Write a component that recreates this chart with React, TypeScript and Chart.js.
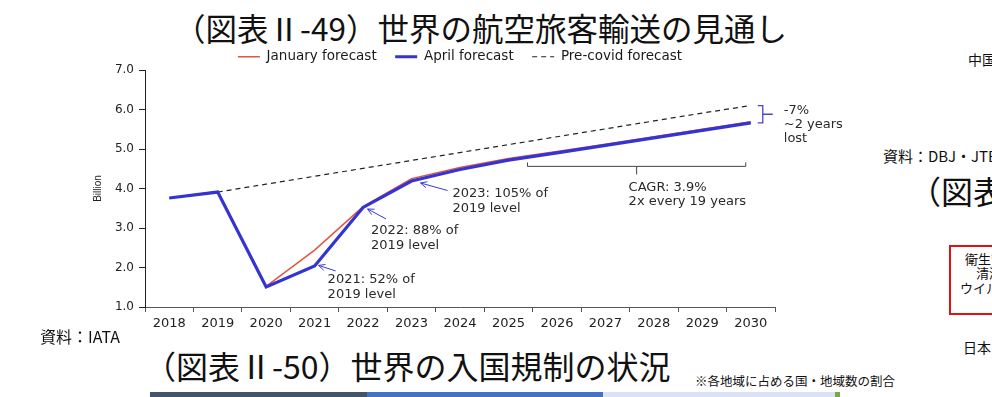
import { useEffect, useRef } from 'react';
import { Chart, registerables } from 'chart.js';

Chart.register(...registerables);

// ---- data ----
const years = ['2018', '2019', '2020', '2021', '2022', '2023', '2024', '2025', '2026', '2027', '2028', '2029', '2030'];
const januaryForecast = [3.76, 3.92, 1.52, 2.44, 3.54, 4.25, 4.53, 4.76, 4.94, 5.12, 5.31, 5.5, 5.69];
const aprilForecast = [3.76, 3.91, 1.51, 2.04, 3.52, 4.19, 4.48, 4.72, 4.9, 5.09, 5.28, 5.47, 5.66];
const preCovidForecast: (number | null)[] = [null, 3.91, 4.11, 4.31, 4.51, 4.71, 4.91, 5.11, 5.31, 5.51, 5.71, 5.91, 6.1];
const seriesNames = ['January forecast', 'April forecast', 'Pre-covid forecast'];
const yMin = 1;
const yMax = 7;
const yStep = 1;
const yTitle = 'Billion';

const callout2021 = ['2021: 52% of', '2019 level'];
const callout2022 = ['2022: 88% of', '2019 level'];
const callout2023 = ['2023: 105% of', '2019 level'];
const cagrLines = ['CAGR: 3.9%', '2x every 19 years'];
const gapLines = ['-7%', '~2 years', 'lost'];

const FONT = '"DejaVu Sans", sans-serif';
const JP = '"Noto Sans CJK JP", sans-serif';

function drawArrow(ctx: CanvasRenderingContext2D, x1: number, y1: number, x2: number, y2: number) {
  ctx.beginPath();
  ctx.moveTo(x1, y1);
  ctx.lineTo(x2, y2);
  ctx.stroke();
  const a = Math.atan2(y2 - y1, x2 - x1);
  const L = 7;
  ctx.beginPath();
  ctx.moveTo(x2 - L * Math.cos(a - 0.45), y2 - L * Math.sin(a - 0.45));
  ctx.lineTo(x2, y2);
  ctx.lineTo(x2 - L * Math.cos(a + 0.45), y2 - L * Math.sin(a + 0.45));
  ctx.stroke();
}

const legendShiftPlugin = {
  id: 'legendShift',
  afterLayout(chart: any) {
    if (chart.legend) {
      chart.legend.top += 3.5;
      chart.legend.bottom += 3.5;
    }
  },
};

const annotationPlugin = {
  id: 'iataAnnotations',
  afterDatasetsDraw(chart: any) {
    const { ctx, scales } = chart;
    const x = scales.x;
    const y = scales.y;
    ctx.save();
    ctx.font = `13px ${FONT}`;
    ctx.fillStyle = '#2a2a2a';
    ctx.textBaseline = 'middle';
    ctx.textAlign = 'left';
    ctx.lineWidth = 1;
    ctx.strokeStyle = '#3a3ad0';

    const callouts = [
      { idx: 3, lines: callout2021, head: [4, -0.5], tail: [21, 5], text: [13, 14] },
      { idx: 4, lines: callout2022, head: [4.5, 1.5], tail: [23, 11.5], text: [8, 23.5] },
      { idx: 5, lines: callout2023, head: [9, 2], tail: [36, 9.5], text: [41, 13] },
    ];
    callouts.forEach((c) => {
      const px = x.getPixelForValue(c.idx);
      const py = y.getPixelForValue(aprilForecast[c.idx]);
      drawArrow(ctx, px + c.tail[0], py + c.tail[1], px + c.head[0], py + c.head[1]);
      c.lines.forEach((t, i) => ctx.fillText(t, px + c.text[0], py + c.text[1] + i * 14.5));
    });

    // CAGR bracket (2025 - 2030)
    const bl = x.getPixelForValue(7) + 19;
    const br = x.getPixelForValue(12) - 5;
    const by = y.getPixelForValue(4.56);
    ctx.strokeStyle = '#444';
    ctx.beginPath();
    ctx.moveTo(bl, by - 4);
    ctx.lineTo(bl, by);
    ctx.lineTo(br, by);
    ctx.lineTo(br, by - 4);
    const bm = (bl + br) / 2;
    ctx.moveTo(bm, by);
    ctx.lineTo(bm, by + 8);
    ctx.stroke();
    cagrLines.forEach((t, i) => ctx.fillText(t, bm - 8, by + 21 + i * 14));

    // gap bracket at 2030
    const gx = x.getPixelForValue(12) + 12;
    const gt = y.getPixelForValue(preCovidForecast[12] as number);
    const gb = y.getPixelForValue(aprilForecast[12]);
    ctx.strokeStyle = '#4646cf';
    ctx.lineWidth = 1.3;
    ctx.beginPath();
    ctx.moveTo(gx - 5, gt);
    ctx.lineTo(gx, gt);
    ctx.lineTo(gx, gb);
    ctx.lineTo(gx - 5, gb);
    ctx.moveTo(gx, (gt + gb) / 2);
    ctx.lineTo(gx + 10, (gt + gb) / 2);
    ctx.stroke();
    gapLines.forEach((t, i) => ctx.fillText(t, gx + 21, gt + 5 + i * 14));
    ctx.restore();
  },
};

function IataChart() {
  const ref = useRef<HTMLCanvasElement | null>(null);
  useEffect(() => {
    if (!ref.current) return;
    const chart = new Chart(ref.current, {
      type: 'line',
      data: {
        labels: years,
        datasets: [
          {
            label: seriesNames[0],
            data: januaryForecast,
            borderColor: '#e2553f',
            backgroundColor: '#e2553f',
            borderWidth: 1.5,
            pointRadius: 0,
            fill: false,
            order: 1,
          },
          {
            label: seriesNames[1],
            data: aprilForecast,
            borderColor: '#3434d4',
            backgroundColor: '#3434d4',
            borderWidth: 3.2,
            pointRadius: 0,
            fill: false,
            order: 0,
          },
          {
            label: seriesNames[2],
            data: preCovidForecast,
            borderColor: '#222',
            backgroundColor: '#222',
            borderWidth: 1.2,
            borderDash: [5, 4],
            pointRadius: 0,
            fill: false,
            order: 2,
          },
        ],
      },
      options: {
        responsive: false,
        maintainAspectRatio: false,
        animation: false,
        layout: { padding: { top: -12, bottom: 0, left: 0, right: 0 } },
        plugins: {
          legend: {
            display: true,
            position: 'top',
            labels: {
              usePointStyle: true,
              pointStyle: 'line',
              pointStyleWidth: 22,
              boxWidth: 22,
              padding: 18.5,
              color: '#1a1a1a',
              font: { family: FONT, size: 13.5 },
              generateLabels: (c: any) =>
                c.data.datasets.map((ds: any, i: number) => ({
                  text: ds.label,
                  datasetIndex: i,
                  strokeStyle: ds.borderColor,
                  fillStyle: ds.borderColor,
                  lineWidth: ds.borderWidth,
                  lineDash: ds.borderDash || [],
                  pointStyle: 'line',
                  hidden: false,
                  fontColor: '#1a1a1a',
                })),
            },
          },
          tooltip: { enabled: false },
        },
        scales: {
          x: {
            type: 'category',
            offset: true,
            grid: { offset: true, drawOnChartArea: false, drawTicks: true, tickLength: 5, color: '#555' },
            border: { color: '#555', width: 1 },
            ticks: { color: '#222', font: { family: FONT, size: 13 }, padding: 4, maxRotation: 0, autoSkip: false },
            afterFit: (s: any) => {
              s.height = 33;
            },
          },
          y: {
            min: yMin,
            max: yMax,
            ticks: {
              stepSize: yStep,
              color: '#222',
              font: { family: FONT, size: 12 },
              padding: 5,
              callback: (v: any) => Number(v).toFixed(1),
            },
            grid: { drawOnChartArea: false, drawTicks: true, tickLength: 6, color: '#222' },
            border: { color: '#222', width: 1 },
            title: {
              display: true,
              text: yTitle,
              color: '#222',
              font: { family: '"Liberation Sans", sans-serif', size: 10 },
              padding: { top: 22, bottom: 0 },
            },
            afterFit: (s: any) => {
              s.width = 75;
            },
          },
          y2: {
            position: 'right',
            display: true,
            grid: { display: false },
            border: { display: false },
            ticks: { display: false },
            afterFit: (s: any) => {
              s.width = 75;
            },
          },
        },
      } as any,
      plugins: [legendShiftPlugin, annotationPlugin],
    });
    return () => chart.destroy();
  }, []);
  return (
    <canvas
      ref={ref}
      width={780}
      height={300}
      style={{ position: 'absolute', left: 70, top: 40, width: 780, height: 300 }}
    />
  );
}

const abs = (left: number, top: number, size: number, extra: any = {}) => ({
  position: 'absolute' as const,
  left,
  top,
  fontSize: size,
  lineHeight: 1,
  whiteSpace: 'nowrap' as const,
  fontFamily: JP,
  color: '#111',
  ...extra,
});

export default function App() {
  return (
    <div
      style={{
        position: 'absolute',
        left: 0,
        top: 0,
        width: 992,
        height: 397,
        overflow: 'hidden',
        background: '#fff',
      }}
    >
      <div style={abs(174, 12, 31.5)}>（図表Ⅱ-49）世界の航空旅客輸送の見通し</div>
      <IataChart />
      <div style={abs(40, 328, 16)}>資料：IATA</div>
      <div style={abs(144, 349, 32)}>（図表Ⅱ-50）世界の入国規制の状況</div>
      <div style={abs(695, 375, 12.5)}>※各地域に占める国・地域数の割合</div>
      {/* right edge, neighbouring column */}
      <div style={abs(968, 52, 14)}>中国</div>
      <div style={abs(883, 148, 15)}>資料：DBJ・JTBF</div>
      <div style={abs(909, 174, 32)}>（図表Ⅱ</div>
      <div
        style={{
          position: 'absolute',
          left: 949,
          top: 245,
          width: 80,
          height: 70,
          border: '2px solid #d11',
          boxSizing: 'border-box',
        }}
      />
      <div style={abs(965, 252, 13)}>衛生管理</div>
      <div style={abs(976, 266, 13)}>清潔</div>
      <div style={abs(960, 281, 13)}>ウイルス</div>
      <div style={abs(963, 340, 14)}>日本</div>
      <div style={{ position: 'absolute', left: 150, top: 392, width: 217, height: 5, background: '#44546a' }} />
      <div style={{ position: 'absolute', left: 367, top: 392, width: 236, height: 5, background: '#4472c4' }} />
      <div style={{ position: 'absolute', left: 603, top: 392, width: 232, height: 5, background: '#dae3f3' }} />
      <div style={{ position: 'absolute', left: 835, top: 392, width: 5, height: 5, background: '#70ad47' }} />
    </div>
  );
}
